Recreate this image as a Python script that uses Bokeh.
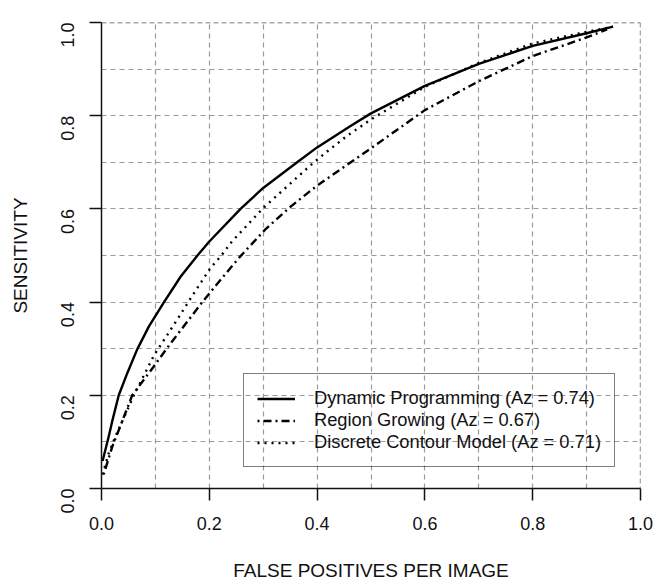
import math
from bokeh.plotting import figure
from bokeh.models import FixedTicker, Legend, LegendItem, Span, PrintfTickFormatter
from bokeh.embed import file_html
from bokeh.resources import INLINE

# Dynamic Programming (Az = 0.74)
dp_x = [0.002, 0.0135, 0.0198, 0.032, 0.048, 0.066, 0.088, 0.116, 0.147, 0.178, 0.2, 0.258, 0.3, 0.363, 0.4, 0.462, 0.5, 0.6, 0.7, 0.8, 0.9, 0.949]
dp_y = [0.059, 0.112, 0.144, 0.2, 0.248, 0.298, 0.348, 0.4, 0.455, 0.5, 0.53, 0.6, 0.645, 0.7, 0.732, 0.778, 0.805, 0.864, 0.911, 0.95, 0.977, 0.991]

# Region Growing (Az = 0.67)
rg_x = [0.004, 0.02, 0.035, 0.057, 0.097, 0.122, 0.187, 0.221, 0.255, 0.304, 0.351, 0.4, 0.456, 0.5, 0.6, 0.7, 0.8, 0.9, 0.938]
rg_y = [0.03, 0.09, 0.134, 0.2, 0.262, 0.302, 0.4, 0.448, 0.495, 0.556, 0.605, 0.65, 0.695, 0.73, 0.812, 0.874, 0.928, 0.968, 0.985]

# Discrete Contour Model (Az = 0.71)
dc_x = [0.002, 0.0135, 0.026, 0.06, 0.097, 0.143, 0.168, 0.202, 0.221, 0.242, 0.301, 0.394, 0.425, 0.456, 0.5, 0.6, 0.7, 0.8, 0.9, 0.949]
dc_y = [0.03, 0.076, 0.112, 0.2, 0.285, 0.367, 0.413, 0.473, 0.498, 0.53, 0.603, 0.7, 0.729, 0.757, 0.792, 0.862, 0.913, 0.955, 0.98, 0.991]

labels = ["Dynamic Programming (Az = 0.74)",
          "Region Growing (Az = 0.67)",
          "Discrete Contour Model (Az = 0.71)"]

major_ticks = [0.0, 0.2, 0.4, 0.6, 0.8, 1.0]
grid_ticks = [0.0, 0.1, 0.2, 0.3, 0.4, 0.5, 0.6, 0.7, 0.8, 0.9, 1.0]

FONT = "Liberation Sans"

p = figure(width=653, height=583, output_backend="svg", toolbar_location=None,
           x_range=(0, 1), y_range=(0, 1),
           min_border_left=101, min_border_right=13, min_border_top=22, min_border_bottom=94,
           x_axis_label="FALSE POSITIVES PER IMAGE", y_axis_label="SENSITIVITY")
p.outline_line_color = None
p.background_fill_color = "white"
p.border_fill_color = "white"

for ax in (p.xaxis[0], p.yaxis[0]):
    ax.ticker = FixedTicker(ticks=major_ticks)
    ax.formatter = PrintfTickFormatter(format="%.1f")
    ax.minor_tick_line_color = None
    ax.major_tick_in = 0
    ax.major_tick_out = 12
    ax.major_tick_line_width = 1.5
    ax.major_tick_line_color = "#111111"
    ax.axis_line_color = "#111111"
    ax.axis_line_width = 1.5
    ax.major_label_text_font = FONT
    ax.major_label_text_font_size = "18px"
    ax.major_label_text_color = "#111111"
    ax.axis_label_text_font = FONT
    ax.axis_label_text_font_size = "19px"
    ax.axis_label_text_font_style = "normal"
    ax.axis_label_text_color = "#111111"

p.xaxis[0].major_label_standoff = 16
p.xaxis[0].axis_label_standoff = 27
p.yaxis[0].major_label_orientation = math.pi / 2
p.yaxis[0].major_label_standoff = 22
p.yaxis[0].axis_label_standoff = 21

for g in (p.xgrid[0], p.ygrid[0]):
    g.ticker = FixedTicker(ticks=grid_ticks)
    g.grid_line_color = "#9a9a9a"
    g.grid_line_dash = "5 4"
    g.grid_line_width = 1.2

p.add_layout(Span(location=1.0, dimension="width", line_color="#555555", line_dash="5 3", line_width=1.3))
p.add_layout(Span(location=1.0, dimension="height", line_color="#555555", line_dash="5 3", line_width=1.3))

r1 = p.line(dp_x, dp_y, line_color="black", line_width=2.4, line_join="round")
r2 = p.line(rg_x, rg_y, line_color="black", line_width=2.4, line_dash="2 4 8 4")
r3 = p.line(dc_x, dc_y, line_color="black", line_width=2.4, line_dash="2 5")

legend = Legend(items=[LegendItem(label=labels[0], renderers=[r1]),
                       LegendItem(label=labels[1], renderers=[r2]),
                       LegendItem(label=labels[2], renderers=[r3])],
                location=(142, 21), orientation="vertical",
                background_fill_alpha=0.0,
                border_line_color="black", border_line_width=1.3,
                label_text_font=FONT, label_text_font_size="18.3px",
                label_text_color="#111111",
                glyph_width=38, glyph_height=21, label_height=21,
                label_standoff=19, spacing=0, padding=13, margin=0)
p.add_layout(legend, "center")

open("out.html", "w").write(file_html(p, INLINE))
